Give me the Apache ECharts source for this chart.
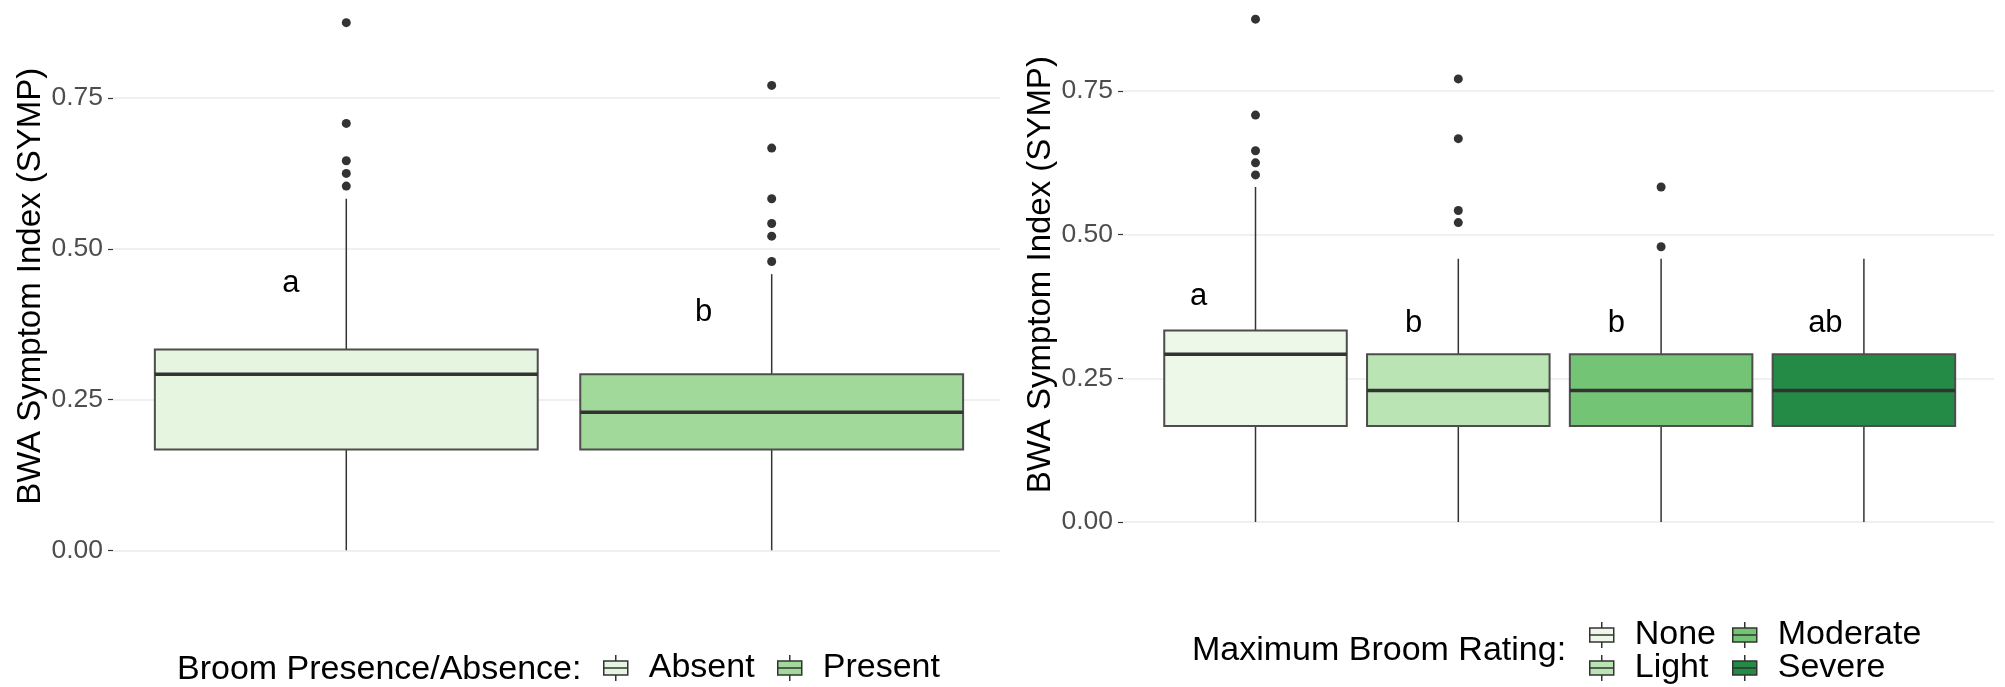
<!DOCTYPE html>
<html>
<head>
<meta charset="utf-8">
<script src="https://cdn.jsdelivr.net/npm/echarts@6/dist/echarts.min.js"></script>
<style>
html,body{margin:0;padding:0;background:#fff;}
#main{width:2005px;height:687px;}
</style>
</head>
<body>
<div id="main"></div>
<script>
// ---------- DATA ----------
const yTickValues = [0, 0.25, 0.5, 0.75];

const presenceCategories = ['Absent', 'Present'];
// [lower whisker, Q1, median, Q3, upper whisker]
const presenceStats = [
  [0, 0.167, 0.292, 0.333, 0.583],
  [0, 0.167, 0.229, 0.292, 0.458]
];
const presenceOutliers = [
  [0.875, 0.708, 0.646, 0.625, 0.604],
  [0.771, 0.667, 0.583, 0.542, 0.521, 0.479]
];
const presenceLetters = ['a', 'b'];
const presenceLetterX = [0.87, 1.84];
const presenceLetterY = [0.442, 0.395];
const presenceColors = ['#E5F5E0', '#A1D99B'];

const ratingCategories = ['None', 'Light', 'Moderate', 'Severe'];
const ratingStats = [
  [0, 0.167, 0.292, 0.333, 0.583],
  [0, 0.167, 0.229, 0.292, 0.458],
  [0, 0.167, 0.229, 0.292, 0.458],
  [0, 0.167, 0.229, 0.292, 0.458]
];
const ratingOutliers = [
  [0.875, 0.708, 0.646, 0.625, 0.604],
  [0.771, 0.667, 0.542, 0.521],
  [0.583, 0.479],
  []
];
const ratingLetters = ['a', 'b', 'b', 'ab'];
const ratingLetterX = [0.72, 1.78, 2.78, 3.81];
const ratingLetterY = [0.393, 0.345, 0.345, 0.345];
const ratingColors = ['#EDF8E9', '#BAE4B3', '#74C476', '#238B45'];

const yTitle = 'BWA Symptom Index (SYMP)';
const presenceLegendTitle = 'Broom Presence/Absence:';
const ratingLegendTitle = 'Maximum Broom Rating:';

// ---------- STYLE ----------
const FONT = 'Liberation Sans, Arial, sans-serif';
const LINE = '#333333';
const BOX_W = 0.9;
const ICON = 'path://M13 0 L13 6 M1 6 L25 6 L25 20 L1 20 Z M1 13 L25 13 M13 20 L13 26';

function renderBox(params, api) {
  const x = api.value(0);
  const pLo = api.coord([x, api.value(1)]);
  const pQ1 = api.coord([x, api.value(2)]);
  const pMed = api.coord([x, api.value(3)]);
  const pQ3 = api.coord([x, api.value(4)]);
  const pHi = api.coord([x, api.value(5)]);
  const w = api.size([BOX_W, 0])[0];
  const fill = api.visual('color');
  return {
    type: 'group',
    children: [
      {type: 'line', shape: {x1: pLo[0], y1: pLo[1], x2: pQ1[0], y2: pQ1[1]}, style: {stroke: LINE, lineWidth: 1.5}},
      {type: 'line', shape: {x1: pQ3[0], y1: pQ3[1], x2: pHi[0], y2: pHi[1]}, style: {stroke: LINE, lineWidth: 1.5}},
      {type: 'rect', shape: {x: pQ1[0] - w / 2, y: pQ3[1], width: w, height: pQ1[1] - pQ3[1]},
        style: {fill: fill, stroke: '#4d4d4d', lineWidth: 2}},
      {type: 'line', shape: {x1: pMed[0] - w / 2, y1: pMed[1], x2: pMed[0] + w / 2, y2: pMed[1]},
        style: {stroke: LINE, lineWidth: 3.5}}
    ]
  };
}

function makeLetterRender(letters) {
  return function (params, api) {
    const p = api.coord([api.value(0), api.value(1)]);
    return {
      type: 'text', x: p[0], y: p[1],
      style: {text: letters[params.dataIndex], fill: '#000', fontSize: 31, fontFamily: FONT,
        align: 'center', verticalAlign: 'middle'}
    };
  };
}

function yAxisFor(gridIndex, shift) {
  return {
    type: 'value', gridIndex: gridIndex, min: 0, max: 1, interval: 0.25,
    name: yTitle, nameLocation: 'middle', nameGap: 62, nameRotate: 90,
    nameTextStyle: {fontSize: 33, color: '#000', fontFamily: FONT, padding: [0, shift, 0, 0]},
    axisLine: {show: false},
    axisTick: {show: true, length: 5, lineStyle: {color: LINE, width: 1.2}},
    axisLabel: {margin: 10, fontSize: 26.5, color: '#4D4D4D', fontFamily: FONT,
      showMaxLabel: false, formatter: v => v.toFixed(2)},
    splitLine: {show: true, lineStyle: {color: '#EBEBEB', width: 1.5}}
  };
}

const series = [];
presenceCategories.forEach((c, i) => {
  series.push({
    name: c, type: 'custom', xAxisIndex: 0, yAxisIndex: 0,
    itemStyle: {color: presenceColors[i], borderColor: LINE, borderWidth: 1.5},
    renderItem: renderBox, encode: {x: 0, y: [1, 2, 3, 4, 5]},
    data: [[i + 1].concat(presenceStats[i])], z: 2
  });
});
series.push({
  type: 'scatter', xAxisIndex: 0, yAxisIndex: 0, symbolSize: 9, itemStyle: {color: '#333', opacity: 1},
  data: presenceOutliers.flatMap((arr, i) => arr.map(v => [i + 1, v])), z: 3
});
series.push({
  type: 'custom', xAxisIndex: 0, yAxisIndex: 0, renderItem: makeLetterRender(presenceLetters),
  data: presenceLetterX.map((x, i) => [x, presenceLetterY[i]]), z: 4
});

ratingCategories.forEach((c, i) => {
  series.push({
    name: c, type: 'custom', xAxisIndex: 1, yAxisIndex: 1,
    itemStyle: {color: ratingColors[i], borderColor: LINE, borderWidth: 1.5},
    renderItem: renderBox, encode: {x: 0, y: [1, 2, 3, 4, 5]},
    data: [[i + 1].concat(ratingStats[i])], z: 2
  });
});
series.push({
  type: 'scatter', xAxisIndex: 1, yAxisIndex: 1, symbolSize: 9, itemStyle: {color: '#333', opacity: 1},
  data: ratingOutliers.flatMap((arr, i) => arr.map(v => [i + 1, v])), z: 3
});
series.push({
  type: 'custom', xAxisIndex: 1, yAxisIndex: 1, renderItem: makeLetterRender(ratingLetters),
  data: ratingLetterX.map((x, i) => [x, ratingLetterY[i]]), z: 4
});

const legendBase = {
  icon: ICON, itemWidth: 24, itemHeight: 27, orient: 'horizontal',
  itemStyle: {borderColor: LINE, borderWidth: 1.5},
  textStyle: {fontSize: 34, color: '#000', fontFamily: FONT, padding: [0, 0, 0, 16]},
  selectedMode: false, padding: 0
};
function oneLegend(name, left, centerY) {
  return Object.assign({}, legendBase, {data: [name], left: left, top: centerY - 17});
}

const option = {
  backgroundColor: '#fff',
  animation: false,
  grid: [
    {left: 113, width: 887, top: -52.7, height: 603, containLabel: false, outerBoundsMode: 'none'},
    {left: 1123, width: 871, top: -52.7, height: 574.7, containLabel: false, outerBoundsMode: 'none'}
  ],
  xAxis: [
    {type: 'value', gridIndex: 0, min: 0.4516, max: 2.5367, show: false},
    {type: 'value', gridIndex: 1, min: 0.3466, max: 4.6415, show: false}
  ],
  yAxis: [yAxisFor(0, 75), yAxisFor(1, 80)],
  title: [
    {text: presenceLegendTitle, left: 177, top: 653, padding: 0,
      textStyle: {fontSize: 34, fontWeight: 'normal', color: '#000', fontFamily: FONT}},
    {text: ratingLegendTitle, left: 1192, top: 634, padding: 0,
      textStyle: {fontSize: 34, fontWeight: 'normal', color: '#000', fontFamily: FONT}}
  ],
  legend: [
    oneLegend(presenceCategories[0], 603, 668),
    oneLegend(presenceCategories[1], 777, 668),
    oneLegend(ratingCategories[0], 1589, 635),
    oneLegend(ratingCategories[1], 1589, 668),
    oneLegend(ratingCategories[2], 1732, 635),
    oneLegend(ratingCategories[3], 1732, 668)
  ],
  series: series
};

const chart = echarts.init(document.getElementById('main'), null, {renderer: 'canvas'});
chart.setOption(option);
</script>
</body>
</html>
